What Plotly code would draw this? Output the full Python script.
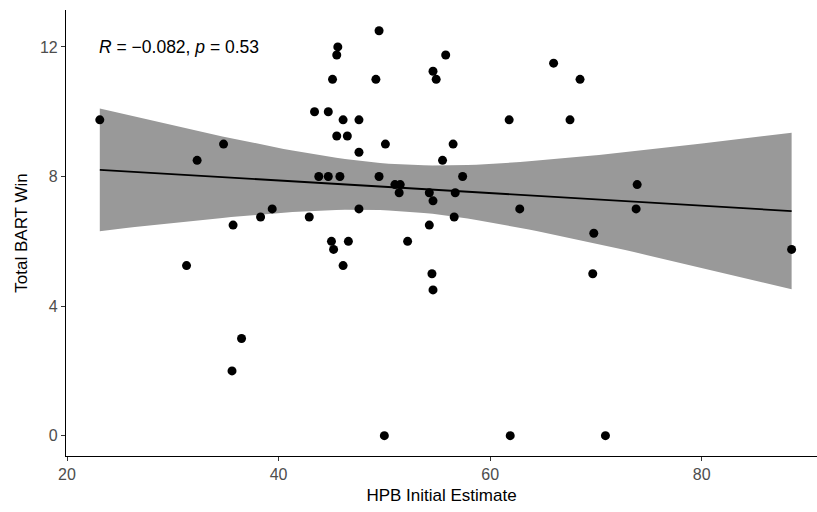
import numpy as np
import plotly.graph_objects as go

# HPB Initial Estimate (x) and Total BART Win (y)
hpb_estimate = [23.1, 31.3, 32.3, 34.8, 35.6, 35.7, 36.5, 38.3, 39.4, 42.9,
                43.4, 43.8, 44.7, 44.7, 45.0, 45.1, 45.2, 45.5, 45.5, 45.6,
                45.8, 46.1, 46.1, 46.5, 46.6, 47.6, 47.6, 47.6, 49.2, 49.5,
                49.5, 50.0, 50.1, 51.0, 51.5, 51.4, 52.2, 54.25, 54.25, 54.5,
                54.6, 54.6, 54.6, 54.9, 55.5, 55.8, 56.5, 56.6, 56.7, 57.4,
                61.8, 61.9, 62.8, 66.0, 67.55, 68.5, 69.7, 69.8, 70.9, 73.8,
                73.9, 88.5]
bart_win = [9.75, 5.25, 8.5, 9.0, 2.0, 6.5, 3.0, 6.75, 7.0, 6.75,
            10.0, 8.0, 10.0, 8.0, 6.0, 11.0, 5.75, 11.75, 9.25, 12.0,
            8.0, 9.75, 5.25, 9.25, 6.0, 9.75, 8.75, 7.0, 11.0, 12.5,
            8.0, 0.0, 9.0, 7.75, 7.75, 7.5, 6.0, 7.5, 6.5, 5.0,
            4.5, 7.25, 11.25, 11.0, 8.5, 11.75, 9.0, 6.75, 7.5, 8.0,
            9.75, 0.0, 7.0, 11.5, 9.75, 11.0, 5.0, 6.25, 0.0, 7.0,
            7.75, 5.75]
cor_label = "<i>R</i> = \u22120.082, <i>p</i> = 0.53"
x_title = "HPB Initial Estimate"
y_title = "Total BART Win"
x_ticks = [20, 40, 60, 80]
y_ticks = [0, 4, 8, 12]

x = np.array(hpb_estimate)
y = np.array(bart_win)
n = len(x)
slope, intercept = np.polyfit(x, y, 1)
resid = y - (intercept + slope * x)
s = np.sqrt(np.sum(resid ** 2) / (n - 2))
t_crit = 2.0003  # t(0.975, df=60)
grid = np.linspace(x.min(), x.max(), 80)
fit = intercept + slope * grid
se = s * np.sqrt(1.0 / n + (grid - x.mean()) ** 2 / np.sum((x - x.mean()) ** 2))
upper = fit + t_crit * se
lower = fit - t_crit * se

fig = go.Figure()
fig.add_trace(go.Scatter(
    x=np.concatenate([grid, grid[::-1]]),
    y=np.concatenate([upper, lower[::-1]]),
    fill="toself", fillcolor="#999999", line=dict(width=0),
    mode="lines", hoverinfo="skip", showlegend=False))
fig.add_trace(go.Scatter(x=grid, y=fit, mode="lines",
                         line=dict(color="black", width=1.8), showlegend=False))
fig.add_trace(go.Scatter(x=x, y=y, mode="markers",
                         marker=dict(color="black", size=9), showlegend=False))

fig.add_annotation(x=x.min(), y=12, xref="x", yref="y", text=cor_label,
                   showarrow=False, xanchor="left", yanchor="middle", xshift=-3,
                   font=dict(family="Liberation Sans, Arial", size=17.5, color="black"))

axis_common = dict(showgrid=False, zeroline=False, showline=True, linecolor="black",
                   linewidth=1.1, ticks="outside", ticklen=4, tickcolor="#333333",
                   tickwidth=1.1,
                   tickfont=dict(family="Liberation Sans, Arial", size=16, color="#4D4D4D"),
                   title_font=dict(family="Liberation Sans, Arial", size=17, color="black"))

fig.update_xaxes(range=[19.905, 90.9], tickvals=x_ticks, title_text=x_title,
                 title_standoff=6, **axis_common)
fig.update_yaxes(range=[-0.627, 13.14], tickvals=y_ticks, title_text=y_title,
                 title_standoff=8, **axis_common)

fig.update_layout(width=817, height=512, margin=dict(l=66, r=0, t=10, b=56),
                  plot_bgcolor="white", paper_bgcolor="white")

fig.write_html("out.html")
